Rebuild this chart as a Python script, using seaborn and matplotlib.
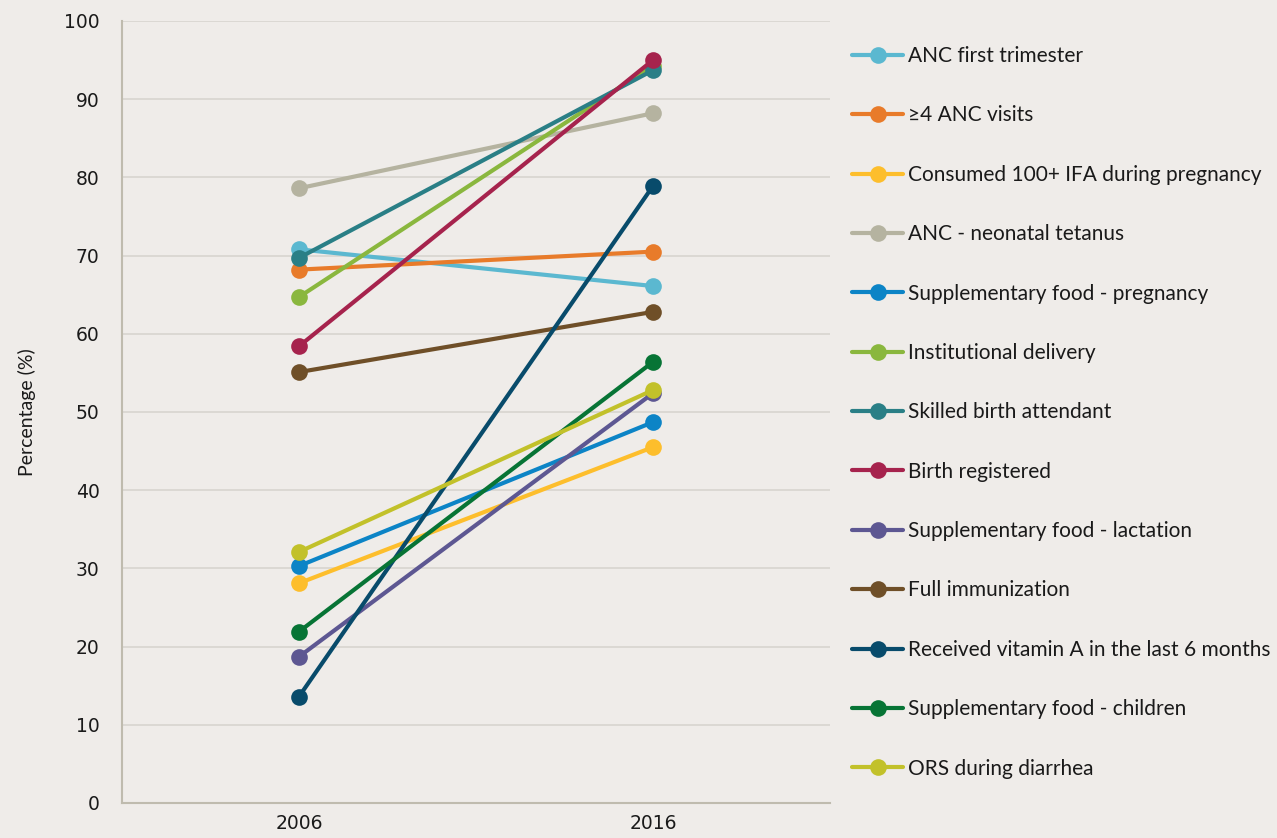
import matplotlib
matplotlib.use("Agg")
import matplotlib.pyplot as plt
import seaborn as sns
import pandas as pd

years = [2006, 2016]
indicators = [
    "ANC first trimester",
    "\u22654 ANC visits",
    "Consumed 100+ IFA during pregnancy",
    "ANC - neonatal tetanus",
    "Supplementary food - pregnancy",
    "Institutional delivery",
    "Skilled birth attendant",
    "Birth registered",
    "Supplementary food - lactation",
    "Full immunization",
    "Received vitamin A in the last 6 months",
    "Supplementary food - children",
    "ORS during diarrhea",
]
values_2006 = [70.8, 68.2, 28.1, 78.6, 30.3, 64.7, 69.7, 58.4, 18.7, 55.1, 13.6, 21.9, 32.1]
values_2016 = [66.1, 70.5, 45.5, 88.2, 48.7, 94.3, 93.7, 95.0, 52.4, 62.8, 78.9, 56.4, 52.8]
colors = ["#5BB8D0", "#E87B2A", "#FDBE2C", "#B5B3A0", "#0C84C6", "#8AB73E",
          "#2A7F86", "#A6234D", "#5D5792", "#6F4F28", "#084B6B", "#077435", "#C2C12A"]

rows = []
for name, a, b in zip(indicators, values_2006, values_2016):
    rows.append({"Year": years[0], "Value": a, "Indicator": name})
    rows.append({"Year": years[1], "Value": b, "Indicator": name})
df = pd.DataFrame(rows)

bg = "#EFECE9"
sns.set_theme(style="white")
plt.rcParams["font.family"] = ["Lato", "DejaVu Sans"]

fig = plt.figure(figsize=(12.77, 8.38), dpi=100, facecolor=bg)
ax = fig.add_axes([0.0955, 0.0418, 0.5545, 0.9332], facecolor=bg)

sns.lineplot(data=df, x="Year", y="Value", hue="Indicator", hue_order=indicators,
             palette=dict(zip(indicators, colors)), marker="o", markersize=12,
             markeredgewidth=0, linewidth=3.0, ax=ax, legend=True)

ax.set_xlim(2001, 2021)
ax.set_ylim(0, 100)
ax.set_yticks(range(0, 101, 10))
ax.set_xticks(years)
ax.set_xticklabels([str(y) for y in years])
ax.yaxis.grid(True, color="#D8D5CF", linewidth=1.2)
ax.xaxis.grid(False)
ax.set_axisbelow(True)
for s in ["top", "right"]:
    ax.spines[s].set_visible(False)
for s in ["left", "bottom"]:
    ax.spines[s].set_color("#BFBBAE")
    ax.spines[s].set_linewidth(1.5)
ax.tick_params(axis="y", length=0, colors="#1a1a1a", pad=16)
ax.tick_params(axis="x", length=0, colors="#1a1a1a", pad=8)
for lbl in ax.get_xticklabels() + ax.get_yticklabels():
    lbl.set_family(["DejaVu Sans"])
    lbl.set_fontsize(13.5)
ax.set_xlabel("")
ax.set_ylabel("Percentage (%)", fontsize=14, color="#1a1a1a", labelpad=20)

handles, labels = ax.get_legend_handles_labels()
ax.get_legend().remove()
leg = fig.legend(handles, labels, loc="upper left", bbox_to_anchor=(0.661, 0.955),
                 frameon=False, fontsize=15, labelspacing=1.89, handlelength=2.45,
                 handletextpad=0.2, borderaxespad=0)
for t in leg.get_texts():
    t.set_color("#1a1a1a")

fig.savefig("out.png", dpi=100, facecolor=bg)
